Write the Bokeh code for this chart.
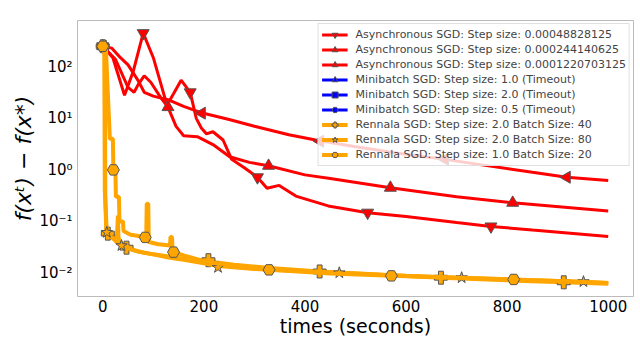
import numpy as np
from bokeh.plotting import figure
from bokeh.models import (ColumnDataSource, Legend, LegendItem, CustomJSTickFormatter,
                          FixedTicker, Range1d)
from bokeh.embed import file_html
from bokeh.resources import INLINE

# ---------------- data ----------------
a1_x = [0, 20, 43, 60, 80, 100, 127, 140, 155, 173, 185, 195, 205, 218, 238, 255, 280, 306, 325, 349, 382, 446, 524, 600, 700, 768, 850, 1000]
a1_y = [250, 150, 28, 80, 450, 150, 18, 30, 55, 32, 10, 6.5, 5, 5.5, 3.8, 1.6, 1.1, 0.72, 0.44, 0.5, 0.31, 0.2, 0.148, 0.125, 0.095, 0.08, 0.068, 0.051]
a1_mx = [0, 80, 173, 306, 524, 768]
a1_my = [250, 450, 32, 0.72, 0.148, 0.08]

a2_x = [0, 25, 50, 62, 70, 82, 95, 115, 129, 145, 160, 187, 218, 251, 290, 328, 400, 450, 569, 700, 811, 1000]
a2_y = [250, 140, 40, 32, 45, 67, 50, 25, 16.5, 7, 4.6, 4.4, 3.1, 1.8, 1.4, 1.2, 0.8, 0.68, 0.45, 0.3, 0.23, 0.16]
a2_mx = [0, 129, 328, 569, 811]
a2_my = [250, 16.5, 1.2, 0.45, 0.23]

a3_x = [0, 18, 35, 50, 70, 82, 100, 129, 160, 193, 250, 300, 368, 421, 500, 600, 677, 750, 850, 918, 1000]
a3_y = [250, 230, 150, 109, 54, 32, 27, 23, 17, 13, 9.5, 7, 4.8, 3.8, 2.8, 2.0, 1.6, 1.25, 0.9, 0.72, 0.62]
a3_mx = [0, 196, 430, 677, 918]
a3_my = [250, 12.6, 3.6, 1.6, 0.72]

r1_x = [0, 4, 5, 7, 12, 20, 28, 30, 31, 33, 40, 47, 60, 80, 100, 130, 160, 209, 260, 330, 429, 550, 669, 800, 912, 1000]
r1_y = [250, 250, 0.3, 0.06, 0.055, 0.05, 0.05, 0.13, 0.05, 0.042, 0.036, 0.031, 0.028, 0.025, 0.023, 0.021, 0.019, 0.0168, 0.0145, 0.0125, 0.0107, 0.0092, 0.0081, 0.0072, 0.0066, 0.0062]
r1_mx = [0, 10, 47, 209, 429, 669, 912]
r1_my = [250, 0.058, 0.031, 0.0177, 0.0107, 0.0081, 0.0066]

r2_x = [0, 3, 4, 8, 15, 25, 37, 50, 70, 100, 130, 160, 200, 228, 300, 380, 468, 600, 710, 850, 951, 1000]
r2_y = [250, 250, 0.4, 0.0615, 0.052, 0.042, 0.034, 0.03, 0.026, 0.023, 0.02, 0.018, 0.0155, 0.0137, 0.012, 0.011, 0.0101, 0.0088, 0.0081, 0.0072, 0.0068, 0.0064]
r2_mx = [0, 8, 37, 228, 468, 710, 951]
r2_my = [250, 0.0615, 0.034, 0.0128, 0.0101, 0.0081, 0.0068]

r3_x = [0, 6, 14, 20, 21, 25, 26, 32, 33, 40, 41, 55, 84, 86, 87, 90, 91, 110, 133, 134, 137, 138, 140, 160, 200, 260, 329, 450, 571, 700, 813, 900, 1000]
r3_y = [250, 250, 4, 4, 1.0, 1.0, 0.3, 0.3, 0.1, 0.1, 0.065, 0.055, 0.05, 0.05, 0.22, 0.22, 0.04, 0.036, 0.034, 0.05, 0.05, 0.028, 0.0254, 0.022, 0.017, 0.0135, 0.0115, 0.0098, 0.0088, 0.0081, 0.0075, 0.007, 0.0064]
r3_mx = [0, 21, 84, 140, 329, 571, 813]
r3_my = [250, 1.0, 0.049, 0.0254, 0.0115, 0.0088, 0.0075]

# Minibatch SGD runs timed out: no points are drawn
mb_x = [np.nan]
mb_y = [np.nan]

labels = [
    "Asynchronous SGD: Step size: 0.00048828125",
    "Asynchronous SGD: Step size: 0.000244140625",
    "Asynchronous SGD: Step size: 0.0001220703125",
    "Minibatch SGD: Step size: 1.0 (Timeout)",
    "Minibatch SGD: Step size: 2.0 (Timeout)",
    "Minibatch SGD: Step size: 0.5 (Timeout)",
    "Rennala SGD: Step size: 2.0 Batch Size: 40",
    "Rennala SGD: Step size: 2.0 Batch Size: 80",
    "Rennala SGD: Step size: 1.0 Batch Size: 20",
]
x_ticks = [0, 200, 400, 600, 800, 1000]

# ---------------- figure ----------------
p = figure(frame_width=556, frame_height=276, y_axis_type="log", output_backend="svg",
           toolbar_location=None, x_range=Range1d(-50, 1050), y_range=Range1d(0.0035, 790),
           min_border_left=77, min_border_top=20, min_border_right=6, min_border_bottom=0)
p.background_fill_color = "white"
p.border_fill_color = "white"
p.outline_line_color = "#bbbbbb"
p.grid.visible = False

RED = "#ff0000"
ORANGE = "#ffa500"
BLUE = "#0000ff"
EDGE = "#555555"

series = [
    (a1_x, a1_y, a1_mx, a1_my, RED, "inverted_triangle", 0.0, 3, 12),
    (a2_x, a2_y, a2_mx, a2_my, RED, "triangle", 0.0, 3, 12),
    (a3_x, a3_y, a3_mx, a3_my, RED, "triangle", np.pi / 2, 3, 12),
    (mb_x, mb_y, mb_x, mb_y, BLUE, "triangle", -np.pi / 2, 3, 12),
    (mb_x, mb_y, mb_x, mb_y, BLUE, "square", 0.0, 3, 11),
    (mb_x, mb_y, mb_x, mb_y, BLUE, "hex", 0.0, 3, 11),
    (r1_x, r1_y, r1_mx, r1_my, ORANGE, "plus", 0.0, 4, 13),
    (r2_x, r2_y, r2_mx, r2_my, ORANGE, "star", 0.0, 4, 12),
    (r3_x, r3_y, r3_mx, r3_my, ORANGE, "hex", 0.0, 4, 12),
]

items = []
for (lx, ly, mx, my, col, mk, ang, lw, ms), lab in zip(series, labels):
    ls = ColumnDataSource(dict(x=lx, y=ly))
    msrc = ColumnDataSource(dict(x=mx, y=my))
    lr = p.line("x", "y", source=ls, line_color=col, line_width=lw)
    sr = p.scatter("x", "y", source=msrc, marker=mk, angle=ang, size=ms,
                   fill_color=col, line_color=EDGE, line_width=1)
    items.append(LegendItem(label=lab, renderers=[lr, sr]))

legend = Legend(items=items, location="top_right")
legend.label_text_font = "DejaVu Sans"
legend.label_text_font_size = "11px"
legend.label_height = 15
legend.glyph_height = 15
legend.glyph_width = 26
legend.spacing = 0
legend.padding = 3
legend.margin = 3
legend.label_standoff = 8
legend.background_fill_alpha = 0.8
legend.border_line_color = "#dddddd"
legend.border_line_alpha = 0.9
p.add_layout(legend)

# axes
p.xaxis.ticker = FixedTicker(ticks=x_ticks)
p.yaxis.formatter = CustomJSTickFormatter(code="""
const e = Math.round(Math.log10(tick));
const sup = {"-":"\u207b","0":"\u2070","1":"\u00b9","2":"\u00b2","3":"\u00b3","4":"\u2074","5":"\u2075"};
return "10" + String(e).split("").map(c => sup[c]).join("");
""")
for ax in (p.xaxis[0], p.yaxis[0]):
    ax.axis_line_color = None
    ax.major_tick_line_color = None
    ax.minor_tick_line_color = None
    ax.major_tick_out = 0
    ax.major_tick_in = 0
    ax.minor_tick_out = 0
    ax.minor_tick_in = 0
    ax.major_label_text_font = "DejaVu Sans"
    ax.major_label_text_font_size = "15px"
    ax.major_label_text_color = "black"
    ax.axis_label_text_font = "DejaVu Sans"
    ax.axis_label_text_font_style = "normal"
    ax.axis_label_text_color = "black"
    ax.major_label_standoff = 3
    ax.axis_label_standoff = 0

p.yaxis.major_label_standoff = 5
p.xaxis.axis_label = "times (seconds)"
p.xaxis.axis_label_text_font_size = "19px"
p.yaxis.axis_label = "f(xᵗ) − f(x*)"
p.yaxis.axis_label_text_font_size = "22px"
p.yaxis.axis_label_text_font_style = "italic"

open("out.html", "w").write(file_html(p, INLINE))
